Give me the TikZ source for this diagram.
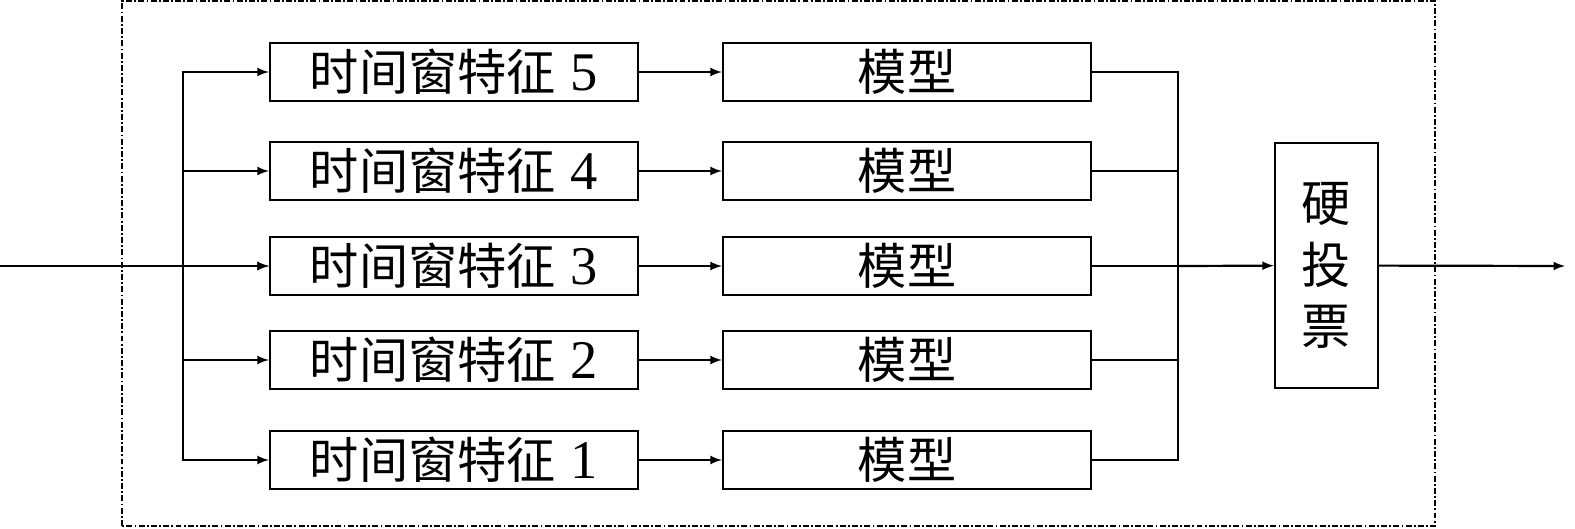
\documentclass[tikz,border=0pt]{standalone}
\usepackage{fontspec}
\setmainfont{Liberation Serif}
\newfontfamily\cjk{Noto Sans CJK SC}
\usetikzlibrary{arrows,positioning}

\begin{document}
\begin{tikzpicture}[line width=1.25pt,
    blk/.style={draw, minimum width=7.36cm, minimum height=1.16cm, inner sep=0pt,
        font=\fontsize{28}{32}\selectfont},
    frame/.style={line width=1pt, dash pattern=on 3.4pt off 1.3pt on 1pt off 1.3pt}]

    \useasboundingbox (0,0) rectangle (31.5,10.56);

    % Dash-dot frame.
    \draw[frame] (2.44,0.04) rectangle (28.7,10.54);

    % Input, branching and merging points.
    \coordinate (in) at (0,5.24);
    \coordinate (split) at (3.66,5.24);
    \coordinate (merge) at (23.56,5.24);
    \coordinate (out) at (31.3,5.24);

    % Feature and model rows.
    \foreach \i/\y in {5/9.12,4/7.14,3/5.24,2/3.36,1/1.36} {
        \node[blk] (feat\i) at (9.08,\y) {{\cjk 时间窗特征}\hspace{0.3em}{\fontsize{31}{32}\selectfont\i}};
        \node[blk] (model\i) at (18.14,\y) {\cjk 模型};
        \draw[-latex] (split) |- (feat\i.west);
        \draw[-latex] (feat\i) -- (model\i);
        \draw (model\i.east) -| (merge);
    }

    % Hard voting.
    \node[draw, minimum width=2.06cm, minimum height=4.9cm, inner sep=0pt, align=center,
        font=\fontsize{28}{35}\selectfont\cjk] (vote) at (26.53,5.25) {硬\\投\\票};

    \draw[-latex] (in) -- (feat3);
    \draw[-latex] (merge) -- (vote);
    \draw[-latex] (vote) -- (out);
\end{tikzpicture}
\end{document}
